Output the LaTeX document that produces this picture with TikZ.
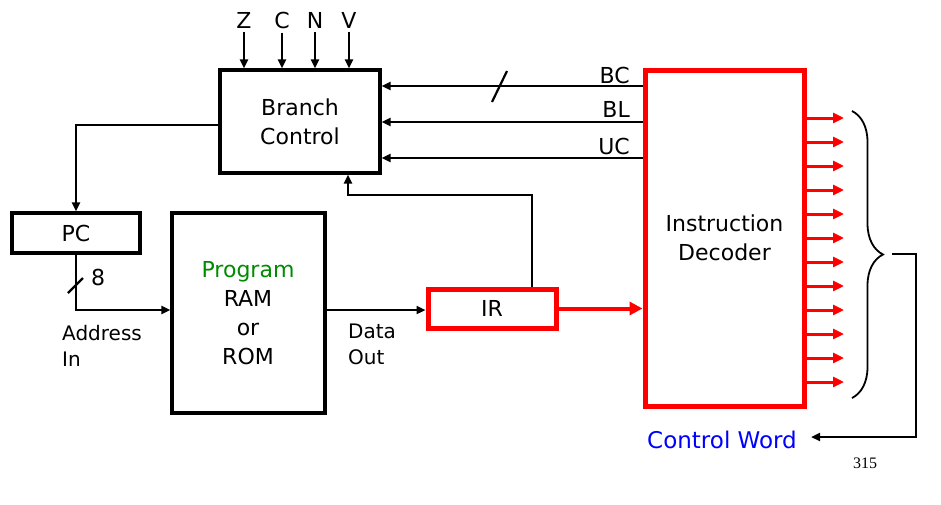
\documentclass[tikz,border=0pt]{standalone}
\usepackage{fontspec}
\setmainfont{DejaVu Sans}
\newfontfamily\numfont{Liberation Serif}
\usetikzlibrary{arrows.meta,decorations.pathreplacing,calc}
\definecolor{progGreen}{RGB}{0,140,0}
\begin{document}
\begin{tikzpicture}[x=1pt,y=-1pt,
  txt/.style={font=\fontsize{22}{29}\selectfont, inner sep=0pt, align=center},
  small/.style={font=\fontsize{20}{26}\selectfont},
  blk/.style={draw=black, line width=3.2pt, fill=white, txt},
  redblk/.style={draw=red, line width=5pt, fill=white, txt},
  conn/.style={line width=2.2pt, -{Triangle[length=9pt,width=8pt]}},
  plain/.style={line width=2.2pt},
  redarr/.style={draw=red, line width=4pt, -{Triangle[length=13pt,width=13pt]}},
  redout/.style={draw=red, line width=3pt, -{Triangle[length=11pt,width=10pt]}}]
\useasboundingbox (0,0) rectangle (941,504);
% boxes
\node[blk, minimum width=160pt, minimum height=103pt] (bc) at (300,121.5) {Branch\\Control};
\node[blk, minimum width=128pt, minimum height=40pt] (pc) at (76,233) {PC};
\node[blk, minimum width=153pt, minimum height=200pt] (ram) at (248.5,313) {};
\node[txt] (ramtxt) at (248,313) {\textcolor{progGreen}{Program}\\RAM\\or\\ROM};
\node[redblk, minimum width=128pt, minimum height=39pt] (ir) at (492,308.5) {IR};
\node[redblk, minimum width=159pt, minimum height=336pt] (dec) at (724.5,238) {Instruction\\Decoder};
% flags
\foreach \n/\x in {z/244,c/282,n/315,v/349}{
  \node[txt] (\n) at (\x,20) {\MakeUppercase{\n}};
  \draw[conn] (\n.south) ++(0,4) -- (\n.south |- bc.north);
}
% BC BL UC
\coordinate (ybc) at (0,86);
\coordinate (ybl) at (0,122);
\coordinate (yuc) at (0,158);
\draw[conn] (dec.west |- ybc) -- (bc.east |- ybc);
\draw[conn] (dec.west |- ybl) -- (bc.east |- ybl);
\draw[conn] (dec.west |- yuc) -- (bc.east |- yuc);
\node[txt, anchor=south east] (lbc) at (630,84) {BC};
\node[txt, anchor=south east] (lbl) at (630,118) {BL};
\node[txt, anchor=south east] (luc) at (630,155) {UC};
\coordinate (s1a) at (492,102);
\coordinate (s1b) at (507,71);
\draw[plain] (s1a) -- (s1b);
% branch to PC
\coordinate (ybr) at (0,125);
\draw[conn] (bc.west |- ybr) -| (pc.north);
% PC to RAM
\coordinate (yaddr) at (0,310);
\draw[conn] (pc.south) |- (ram.west |- yaddr);
\coordinate (s2a) at (68,293);
\coordinate (s2b) at (83,278);
\draw[plain] (s2a) -- (s2b);
\node[txt] (eight) at (98,277) {8};
\node[txt, small, align=left, anchor=north west] (addr) at (62,325) {Address\\In};
% RAM to IR
\draw[conn] (ram.east |- yaddr) -- (ir.west |- yaddr);
\node[txt, small, align=left, anchor=north west] (dout) at (348,324) {Data\\Out};
% IR to branch
\coordinate (irup) at (532,195);
\coordinate (bcup) at (348,195);
\draw[conn] (ir.north -| irup) -- (irup) -- (bcup) -- (bc.south -| bcup);
% IR to decoder
\draw[redarr] (ir.east) -- (dec.west |- ir.east);
% outputs
\foreach \i in {0,...,11}{
  \coordinate (o\i) at (844,118+24*\i);
  \draw[redout] (dec.east |- o\i) -- (o\i);
}
% brace
\coordinate (bt) at (852,111);
\coordinate (bb) at (852,398);
\draw[line width=1.8pt, decorate, decoration={brace, amplitude=31pt}] (bt) -- (bb);
\coordinate (tip) at (892,254);
\coordinate (corner1) at (916,254);
\coordinate (corner2) at (916,437);
\node[txt, text=blue, anchor=east, font=\fontsize{23}{29}\selectfont] (cw) at (797,440) {Control Word};
\draw[conn] (tip) -- (corner1) -- (corner2) -- ([xshift=14pt]cw.east |- corner2);
\node[inner sep=0pt, font=\numfont\fontsize{16}{18}\selectfont] (pg) at (865,463) {315};
\end{tikzpicture}
\end{document}
